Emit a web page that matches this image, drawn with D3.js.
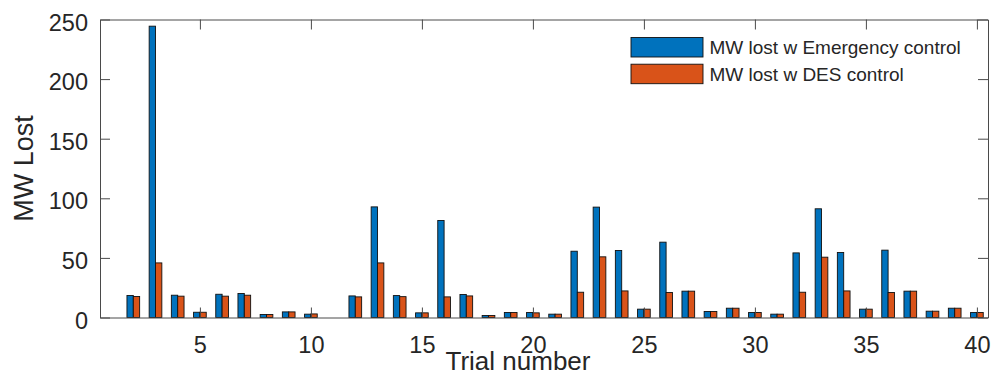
<!DOCTYPE html>
<html>
<head>
<meta charset="utf-8">
<script src="https://cdn.jsdelivr.net/npm/d3@7"></script>
<style>
  body { margin: 0; background: #fff; }
  svg { display: block; }
  text { font-family: "Liberation Sans", Arial, Helvetica, sans-serif; fill: #262626; }
</style>
</head>
<body>
<svg id="chart" width="991" height="376"></svg>
<script>
// Trial numbers and MW lost per trial for each control scheme
const trials = d3.range(1, 41);
const emergencyMW = [
  0, 18.5, 244.4, 18.7, 4.4, 19.5, 20.1, 2.5, 4.7, 2.8,
  0, 18.1, 92.8, 18.4, 3.9, 81.4, 19.3, 1.7, 4.2, 4.2,
  2.8, 55.6, 92.6, 56.2, 7.0, 63.2, 22.1, 5.0, 7.8, 4.2,
  2.8, 54.2, 91.2, 54.5, 7.0, 56.5, 22.1, 5.3, 7.8, 4.2
];
const desMW = [
  0, 17.6, 45.8, 17.9, 4.4, 17.9, 18.7, 2.5, 4.7, 3.0,
  0, 17.3, 45.8, 17.5, 3.9, 17.3, 18.1, 1.7, 4.2, 3.9,
  2.8, 21.2, 50.9, 22.3, 7.0, 21.0, 22.1, 5.0, 7.8, 4.2,
  2.8, 21.2, 50.6, 22.3, 7.0, 21.0, 22.1, 5.3, 7.8, 4.2
];
const seriesNames = ["MW lost w Emergency control", "MW lost w DES control"];
const seriesColors = ["#0072BD", "#D95319"];
const xTicks = [5, 10, 15, 20, 25, 30, 35, 40];
const yTicks = [0, 50, 100, 150, 200, 250];
const xLabel = "Trial number";
const yLabel = "MW Lost";

const svg = d3.select("#chart");
const plot = { left: 100, right: 988, top: 19.5, bottom: 317.5 };

const x = d3.scaleLinear().domain([0.5, 40.5]).range([plot.left, plot.right]);
const y = d3.scaleLinear().domain([0, 250]).range([plot.bottom, plot.top]);

// grouped bars: two bars share a group 4/7 of a unit wide
const unit = x(1) - x(0);
const groupW = unit * 2 / 3.5;
const sub = d3.scaleBand().domain([0, 1]).range([-groupW / 2, groupW / 2]).paddingInner(0);

const rows = trials.map((t, i) => ({ t, vals: [emergencyMW[i], desMW[i]] }));

const bars = svg.append("g");
rows.forEach(r => {
  r.vals.forEach((v, s) => {
    bars.append("rect")
      .attr("x", x(r.t) + sub(s))
      .attr("width", sub.bandwidth())
      .attr("y", y(v))
      .attr("height", y(0) - y(v))
      .attr("fill", seriesColors[s])
      .attr("stroke", "#111")
      .attr("stroke-width", 0.9);
  });
});

// axes box with inward ticks on all four sides
const axisColor = "#4a4a4a";
function styleAxis(g) {
  g.selectAll("path.domain").attr("stroke", axisColor).attr("stroke-width", 1);
  g.selectAll(".tick line").attr("stroke", axisColor).attr("stroke-width", 1);
  g.selectAll(".tick text").attr("fill", "#262626").style("font-family", '"Liberation Sans", Arial, sans-serif');
}

svg.append("g")
  .attr("transform", `translate(0,${plot.bottom})`)
  .call(d3.axisBottom(x).tickValues(xTicks).tickSizeInner(-10).tickSizeOuter(0).tickPadding(19))
  .call(g => g.selectAll(".tick text").attr("font-size", 23.5))
  .call(styleAxis);

svg.append("g")
  .attr("transform", `translate(0,${plot.top})`)
  .call(d3.axisTop(x).tickValues(xTicks).tickSizeInner(-10).tickSizeOuter(0).tickFormat(""))
  .call(styleAxis);

svg.append("g")
  .attr("transform", `translate(${plot.left},0)`)
  .call(d3.axisLeft(y).tickValues(yTicks).tickSizeInner(-10).tickSizeOuter(0).tickPadding(12))
  .call(g => g.selectAll(".tick text").attr("font-size", 23.5).attr("dy", "0.45em"))
  .call(styleAxis);

svg.append("g")
  .attr("transform", `translate(${plot.right},0)`)
  .call(d3.axisRight(y).tickValues(yTicks).tickSizeInner(-10).tickSizeOuter(0).tickFormat(""))
  .call(styleAxis);

// axis titles
svg.append("text")
  .attr("x", 518).attr("y", 370)
  .attr("text-anchor", "middle")
  .attr("font-size", 26)
  .text(xLabel);

svg.append("text")
  .attr("transform", `translate(33,${(plot.top + plot.bottom) / 2}) rotate(-90)`)
  .attr("text-anchor", "middle")
  .attr("font-size", 27)
  .text(yLabel);

// legend
const legend = svg.append("g").attr("transform", "translate(631,37.5)");
seriesNames.forEach((name, i) => {
  const row = legend.append("g").attr("transform", `translate(0,${i * 26.7})`);
  row.append("rect")
    .attr("width", 72).attr("height", 19.5)
    .attr("fill", seriesColors[i])
    .attr("stroke", "#111").attr("stroke-width", 0.9);
  row.append("text")
    .attr("x", 78.5).attr("y", 9.75)
    .attr("dy", "0.36em")
    .attr("font-size", 19)
    .text(name);
});
</script>
</body>
</html>
